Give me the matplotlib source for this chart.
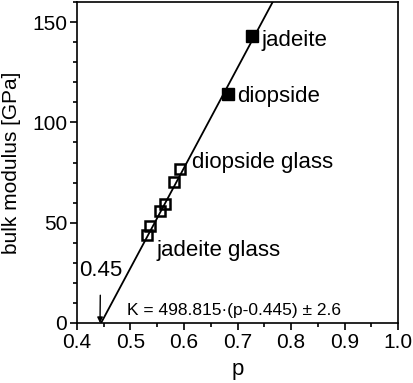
import numpy as np
import matplotlib.pyplot as plt
from matplotlib.ticker import MultipleLocator

plt.rcParams['font.family'] = ['Liberation Sans', 'DejaVu Sans']

# crystals (filled squares)
p_cryst = [0.727, 0.682]
K_cryst = [143, 114]
# glasses (open squares)
p_glass = [0.593, 0.581, 0.5645, 0.556, 0.537, 0.530]
K_glass = [76.6, 70.1, 59.1, 55.8, 48.3, 43.8]

# fit K = a*(p - p0)
a_fit = 498.815
p0_fit = 0.445


def main():
    fig = plt.figure(figsize=(4.13, 3.83), dpi=100)
    ax = fig.add_axes([77 / 413, 1 - 323 / 383, (398 - 77) / 413, (323 - 2) / 383])

    pp = np.linspace(p0_fit, p0_fit + 165 / a_fit, 50)
    ax.plot(pp, a_fit * (pp - p0_fit), color='black', lw=1.3, zorder=1)

    ax.plot(p_cryst, K_cryst, 's', color='black', ms=8, zorder=3)
    ax.plot(p_glass, K_glass, 's', mfc='none', mec='black', mew=1.8, ms=7, zorder=3)

    ax.text(0.745, 141, 'jadeite', fontsize=16, va='center')
    ax.text(0.700, 113, 'diopside', fontsize=16, va='center')
    ax.text(0.615, 80, 'diopside glass', fontsize=16, va='center')
    ax.text(0.548, 36, 'jadeite glass', fontsize=16, va='center')
    ax.text(0.493, 6, 'K = 498.815·(p-0.445) ± 2.6', fontsize=12.5, va='center')

    ax.annotate('0.45', xy=(0.443, 0), xytext=(0.444, 26), fontsize=16,
                ha='center', va='center',
                arrowprops=dict(arrowstyle='-|>', color='black', lw=1,
                                shrinkA=8, shrinkB=0, mutation_scale=8))

    ax.set_xlim(0.4, 1.0)
    ax.set_ylim(0, 160)
    ax.xaxis.set_major_locator(MultipleLocator(0.1))
    ax.xaxis.set_minor_locator(MultipleLocator(0.05))
    ax.yaxis.set_major_locator(MultipleLocator(50))
    ax.yaxis.set_minor_locator(MultipleLocator(10))
    ax.xaxis.set_major_formatter(plt.FormatStrFormatter('%.1f'))
    ax.tick_params(which='both', direction='out', labelsize=15, width=1.2, pad=2)
    ax.tick_params(which='major', length=5)
    ax.tick_params(which='minor', length=3)
    for s in ax.spines.values():
        s.set_linewidth(1.2)

    ax.set_xlabel('p', fontsize=16, labelpad=5)
    ax.set_ylabel('bulk modulus [GPa]', fontsize=15, labelpad=8)

    fig.savefig('out.png', dpi=100)


if '__main__' == __name__:
    main()
